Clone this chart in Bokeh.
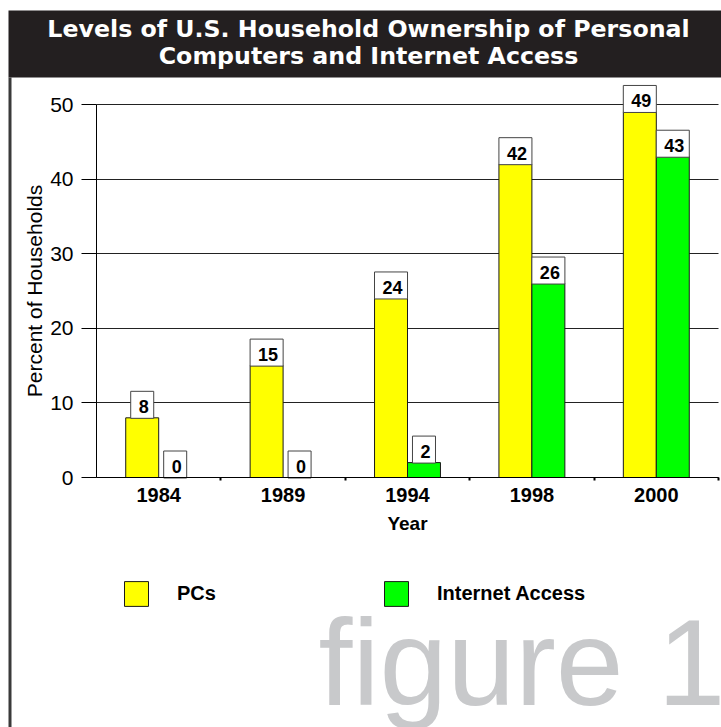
import numpy as np
from bokeh.plotting import figure
from bokeh.models import (ColumnDataSource, Range1d, FixedTicker, Label,
                          BoxAnnotation, Legend, LegendItem)
from bokeh.transform import dodge
from bokeh.core.properties import value
from bokeh.embed import file_html
from bokeh.resources import INLINE

# ---- data ----
years = ["1984", "1989", "1994", "1998", "2000"]
pcs = [8, 15, 24, 42, 49]
internet = [0, 0, 2, 26, 43]
y_ticks = [0, 10, 20, 30, 40, 50]
series_names = ["PCs", "Internet Access"]
title_lines = ["Levels of U.S. Household Ownership of Personal",
               "Computers and Internet Access"]
x_label = "Year"
y_label = "Percent of Households"
watermark = "figure 1"

# ---- layout (pixels) ----
W, H = 721, 727
PLOT_L, PLOT_R = 96, 718      # plotting area, left/right
PLOT_B, PLOT_T = 477, 104     # y of value 0 and of top tick
FONT = "Liberation Sans"

n = len(years)
y_max = y_ticks[-1]
ppx = (PLOT_R - PLOT_L) / n
ppy = (PLOT_B - PLOT_T) / y_max
x_range = Range1d(-PLOT_L / ppx, n + (W - PLOT_R) / ppx)
y_range = Range1d(-(H - PLOT_B) / ppy, PLOT_B / ppy)

p = figure(width=W, height=H, output_backend="svg", toolbar_location=None,
           x_range=x_range, y_range=y_range, title=None,
           min_border_left=0, min_border_right=0, min_border_top=0,
           min_border_bottom=0)
p.outline_line_color = None
p.background_fill_color = "white"
p.border_fill_color = "white"

# title band and left border
p.add_layout(BoxAnnotation(left=8, right=W, top=10, bottom=77,
                           left_units="canvas", right_units="canvas",
                           top_units="canvas", bottom_units="canvas",
                           fill_color="#231f20", fill_alpha=1.0, line_color=None,
                           level="underlay"))
p.add_layout(BoxAnnotation(left=8, right=11, top=77, bottom=H,
                           left_units="canvas", right_units="canvas",
                           top_units="canvas", bottom_units="canvas",
                           fill_color="#3a3a3a", fill_alpha=1.0, line_color=None,
                           level="underlay"))

pos = np.arange(n) + 0.5
src = ColumnDataSource(dict(pos=pos, pcs=pcs, internet=internet,
                            pcs_txt=[str(v) for v in pcs],
                            net_txt=[str(v) for v in internet]))
bw = 0.265

# grid
p.xgrid.visible = False
p.ygrid.ticker = FixedTicker(ticks=y_ticks)
p.ygrid.grid_line_color = "#222222"
p.ygrid.grid_line_width = 1
try:
    p.ygrid.cross_bounds = (0, n)
except Exception:
    p.ygrid.visible = False
    p.segment(x0=0, x1=n, y0=y_ticks, y1=y_ticks, line_color="#222222", line_width=1)

r1 = p.vbar(x=dodge("pos", -bw / 2), top="pcs", width=bw, source=src,
            fill_color="#ffff00", line_color="#1a1a1a", line_width=1)
r2 = p.vbar(x=dodge("pos", bw / 2), top="internet", width=bw, source=src,
            fill_color="#00ff00", line_color="#1a1a1a", line_width=1)

for col, txt, off in (("pcs", "pcs_txt", -bw / 2), ("internet", "net_txt", bw / 2)):
    p.text(x=dodge("pos", off), y=col, text=txt, source=src,
           text_align="center", text_baseline="alphabetic", y_offset=-13,
           text_font=value(FONT), text_font_style="bold",
           text_font_size="18px", text_color="black",
           background_fill_color="white", border_line_color="#444444",
           border_line_width=1, padding=(8, 5, 9, 5))

# axes
xa = p.xaxis[0]
xa.fixed_location = 0
xa.bounds = (0, n)
xa.ticker = FixedTicker(ticks=list(pos), minor_ticks=list(range(1, n + 1)))
xa.major_label_overrides = {float(x): y for x, y in zip(pos, years)}
xa.major_tick_out = 0
xa.major_tick_in = 0
xa.minor_tick_out = 3
xa.minor_tick_in = 0
xa.minor_tick_line_width = 2
xa.minor_tick_line_color = "black"
xa.axis_line_color = "black"
xa.major_label_text_font = FONT
xa.major_label_text_font_style = "bold"
xa.major_label_text_font_size = "20px"
xa.major_label_text_color = "black"
xa.major_label_standoff = 7
xa.axis_label = x_label
xa.axis_label_text_font = FONT
xa.axis_label_text_font_style = "bold"
xa.axis_label_text_font_size = "19px"
xa.axis_label_text_color = "black"
xa.axis_label_standoff = 8

ya = p.yaxis[0]
ya.fixed_location = 0
ya.bounds = (0, y_max)
ya.ticker = FixedTicker(ticks=y_ticks)
ya.major_tick_out = 15
ya.major_tick_in = 0
ya.minor_tick_out = 0
ya.minor_tick_in = 0
ya.axis_line_color = "black"
ya.major_tick_line_color = "black"
ya.major_label_text_font = FONT
ya.major_label_text_font_size = "21px"
ya.major_label_text_color = "black"
ya.major_label_standoff = 8
ya.axis_label = y_label
ya.axis_label_text_font = FONT
ya.axis_label_text_font_style = "normal"
ya.axis_label_text_font_size = "21px"
ya.axis_label_text_color = "black"
ya.axis_label_standoff = 1

# legend
legend = Legend(items=[LegendItem(label=series_names[0], renderers=[r1]),
                       LegendItem(label=series_names[1], renderers=[r2])],
                orientation="horizontal", location=(121, H - 609),
                glyph_width=30, glyph_height=31, label_height=31,
                label_standoff=26, label_width=204, spacing=0, padding=0, margin=0,
                border_line_color=None, background_fill_alpha=0,
                label_text_font=FONT, label_text_font_style="bold",
                label_text_font_size="20px", label_text_color="black")
p.add_layout(legend)

# title text
for t, yb in zip(title_lines, [28, 55]):
    p.add_layout(Label(x=368, y=yb, x_units="canvas", y_units="canvas", text=t,
                       text_align="center", text_baseline="alphabetic",
                       text_color="white", text_font="DejaVu Sans",
                       text_font_style="bold", text_font_size="23.7px"))

# watermark
p.add_layout(Label(x=318, y=662, x_units="canvas", y_units="canvas", text=watermark,
                   text_align="left", text_baseline="alphabetic",
                   text_color="#c8c9cb", text_font=FONT, text_font_size="122px",
                   level="underlay"))

open("out.html", "w").write(file_html(p, INLINE))
